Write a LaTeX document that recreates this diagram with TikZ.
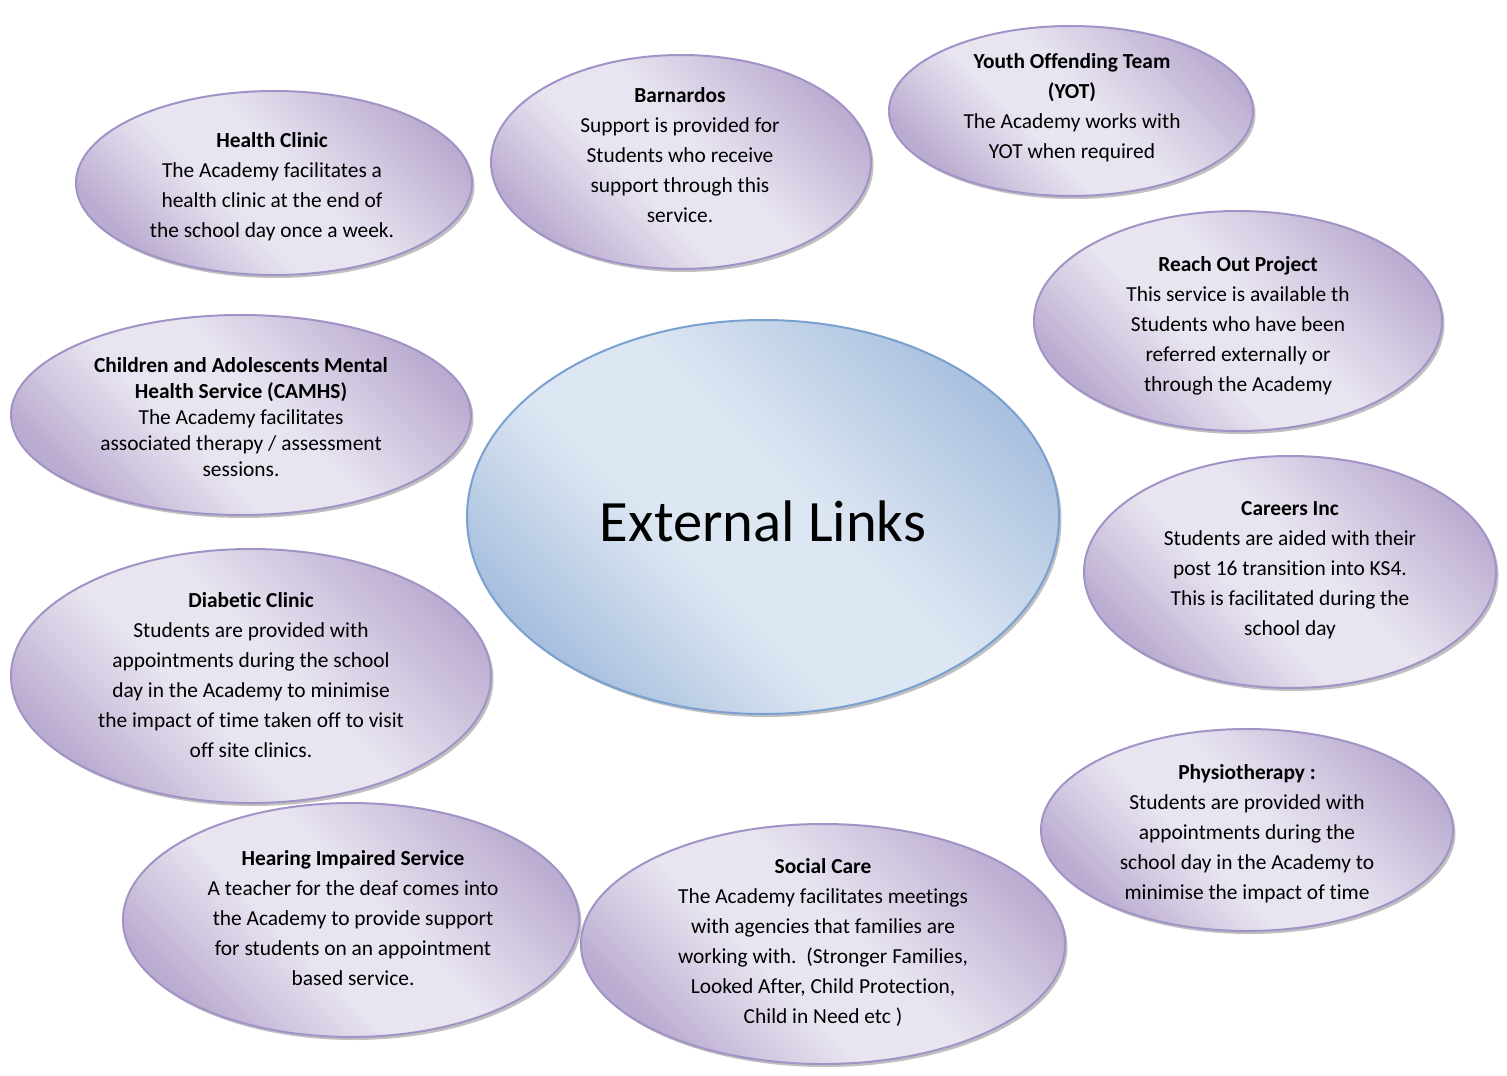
\documentclass[tikz,border=0pt]{standalone}
\usepackage{fontspec}
\setmainfont[Ligatures={NoCommon}]{Carlito}
\usetikzlibrary{shapes.geometric,shadows}

\definecolor{lavEdge}{RGB}{162,147,198}
\definecolor{lavDark}{RGB}{186,171,208}
\definecolor{lavMid}{RGB}{212,203,226}
\definecolor{lavLight}{RGB}{232,228,240}
\definecolor{skyEdge}{RGB}{122,160,207}
\definecolor{skyDark}{RGB}{167,191,222}
\definecolor{skyMid}{RGB}{197,213,233}
\definecolor{skyLight}{RGB}{221,231,243}

% diagonal light band between darker edges
\pgfdeclarehorizontalshading{lavfill}{100bp}{color(0bp)=(lavDark); color(25bp)=(lavDark); color(34bp)=(lavMid); color(42bp)=(lavLight); color(54bp)=(lavLight); color(64bp)=(lavMid); color(76bp)=(lavDark); color(100bp)=(lavDark)}
\pgfdeclarehorizontalshading{skyfill}{100bp}{color(0bp)=(skyDark); color(25bp)=(skyDark); color(34bp)=(skyMid); color(42bp)=(skyLight); color(54bp)=(skyLight); color(64bp)=(skyMid); color(76bp)=(skyDark); color(100bp)=(skyDark)}

\tikzset{
  bubble/.style={ellipse, draw=lavEdge, line width=2pt, shading=lavfill, shading angle=45,
    inner sep=0pt, outer sep=0pt,
    drop shadow={shadow xshift=2.5pt, shadow yshift=-3pt, fill=black!55, opacity=.45}},
  hubshape/.style={bubble, draw=skyEdge, shading=skyfill},
  txt/.style={align=center, inner sep=0pt, text=black, font=\fontsize{21.4}{30}\selectfont},
  tighttxt/.style={txt, font=\fontsize{21.4}{26}\selectfont},
}

\begin{document}
\begin{tikzpicture}[x=1pt, y=-1pt]
\useasboundingbox (0,0) rectangle (1507,1076);

% outer ring of services
\node[bubble, minimum width=396pt, minimum height=184pt] (health) at (274,183) {};
\node[bubble, minimum width=380pt, minimum height=214pt] (barn) at (681,162) {};
\node[bubble, minimum width=364pt, minimum height=170pt] (yot) at (1071,111) {};
\node[bubble, minimum width=408pt, minimum height=220pt] (reach) at (1238,321) {};
\node[bubble, minimum width=460pt, minimum height=200pt] (camhs) at (241,415) {};
\node[bubble, minimum width=412pt, minimum height=232pt] (careers) at (1290,572) {};
\node[bubble, minimum width=480pt, minimum height=254pt] (diab) at (251,676) {};
\node[bubble, minimum width=412pt, minimum height=202pt] (physio) at (1247,830) {};
\node[bubble, minimum width=484pt, minimum height=240pt] (social) at (823,944) {};
\node[bubble, minimum width=456pt, minimum height=234pt] (hearing) at (351,920) {};

% centre
\node[hubshape, minimum width=592pt, minimum height=394pt] (hub) at (763,517) {};
\node[txt, font=\fontsize{58.6}{70}\selectfont] (hubT) at (763,521) {External Links};

% texts
\node[txt] (healthT) at (272,187) {\textbf{Health Clinic}\\The Academy facilitates a\\health clinic at the end of\\the school day once a week.};
\node[txt] (barnT) at (680,155) {\textbf{Barnardos}\\Support is provided for\\Students who receive\\support through this\\service.};
\node[txt] (yotT) at (1072,108) {\textbf{Youth Offending Team}\\\textbf{(YOT)}\\The Academy works with\\YOT when required};
\node[txt] (reachT) at (1238,326) {\textbf{Reach Out Project}\\This service is available th\\Students who have been\\referred externally or\\through the Academy};
\node[tighttxt] (camhsT) at (241,417) {\textbf{Children and Adolescents Mental}\\\textbf{Health Service (CAMHS)}\\The Academy facilitates\\associated therapy / assessment\\sessions.};
\node[txt] (careersT) at (1290,570) {\textbf{Careers Inc}\\Students are aided with their\\post 16 transition into KS4.\\This is facilitated during the\\school day};
\node[txt] (diabT) at (251,675) {\textbf{Diabetic Clinic}\\Students are provided with\\appointments during the school\\day in the Academy to minimise\\the impact of time taken off to visit\\off site clinics.};
\node[txt] (physioT) at (1247,834) {\textbf{Physiotherapy :}\\Students are provided with\\appointments during the\\school day in the Academy to\\minimise the impact of time};
\node[txt] (hearingT) at (353,918) {\textbf{Hearing Impaired Service}\\A teacher for the deaf comes into\\the Academy to provide support\\for students on an appointment\\based service.};
\node[txt] (socialT) at (823,942) {\textbf{Social Care}\\The Academy facilitates meetings\\with agencies that families are\\working with.\ \ (Stronger Families,\\Looked After, Child Protection,\\Child in Need etc )};
\end{tikzpicture}
\end{document}
